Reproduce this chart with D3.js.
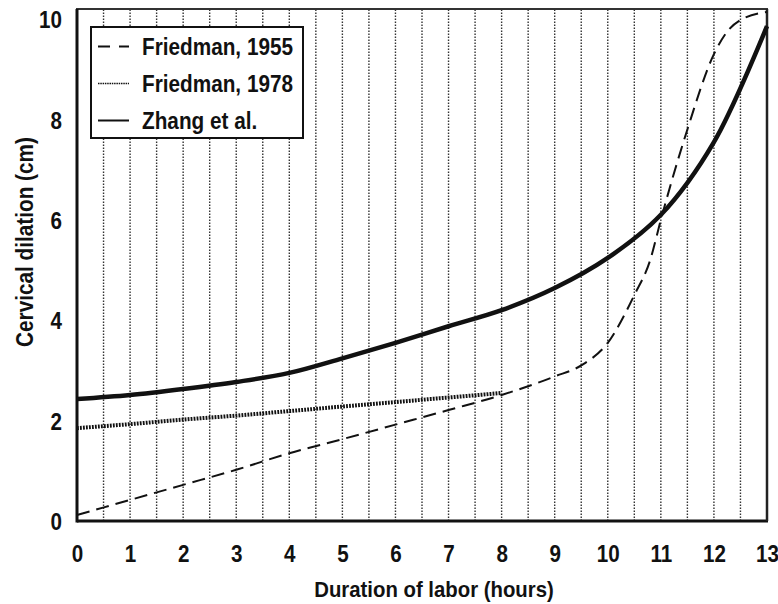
<!DOCTYPE html>
<html><head><meta charset="utf-8">
<script src="https://cdn.jsdelivr.net/npm/d3@7"></script>
<style>
body{margin:0;background:#fff;}
text{font-family:"Liberation Sans",Arial,sans-serif;font-weight:bold;fill:#111;}
</style></head>
<body>
<svg id="chart" width="778" height="604"></svg>
<script>
const xTicks = [0,1,2,3,4,5,6,7,8,9,10,11,12,13];
const yTicks = [0,2,4,6,8,10];
const gridHours = [0.5,1,1.5,2,2.5,3,3.5,4,4.5,5,5.5,6,6.5,7,7.5,8,8.5,9,9.5,10,10.5,11,11.5,12,12.5];

const friedman1955Hours  = [0,1,2,3,4,5,6,7,8,9,9.5,10,10.5,10.8,11,11.5,12,12.25,12.5,13];
const friedman1955Values = [0.12,0.42,0.72,1.02,1.35,1.63,1.92,2.21,2.51,2.88,3.1,3.55,4.5,5.2,6.0,7.8,9.3,9.75,9.98,10.14];

const friedman1978Hours  = [0,1,2,3,4,5,6,7,8];
const friedman1978Values = [1.85,1.93,2.02,2.1,2.19,2.28,2.37,2.46,2.55];

const zhangHours  = [0,1,2,3,4,5,6,7,8,9,10,11,12,13];
const zhangValues = [2.43,2.51,2.63,2.77,2.95,3.24,3.55,3.88,4.2,4.64,5.24,6.1,7.55,9.86];

const legendLabels = ["Friedman, 1955","Friedman, 1978","Zhang et al."];

const svg = d3.select("#chart");
const x = d3.scaleLinear().domain([0,13]).range([77,767]);
const y = d3.scaleLinear().domain([0,10.2]).range([521,9]);

// gridlines
svg.append("g").selectAll("line").data(gridHours).join("line")
  .attr("x1",d=>x(d)).attr("x2",d=>x(d)).attr("y1",y(0)).attr("y2",y(10.2))
  .attr("stroke","#333").attr("stroke-width",1.4).attr("stroke-dasharray","1.6,1.4");

// frame
svg.append("rect").attr("x",x(0)).attr("y",y(10.2)).attr("width",x(13)-x(0)).attr("height",y(0)-y(10.2))
  .attr("fill","none").attr("stroke","#333").attr("stroke-width",2);
svg.append("line").attr("x1",x(0)).attr("x2",x(0)).attr("y1",y(10.2)).attr("y2",y(0)+1.5).attr("stroke","#111").attr("stroke-width",3);
svg.append("line").attr("x1",x(0)).attr("x2",x(13)+1).attr("y1",y(0)).attr("y2",y(0)).attr("stroke","#111").attr("stroke-width",3);
svg.append("line").attr("x1",x(13)).attr("x2",x(13)).attr("y1",y(10.2)).attr("y2",y(0)).attr("stroke","#222").attr("stroke-width",2.5);

// axes labels via d3 axes
const TSX = 0.86;
const xAxis = svg.append("g").attr("transform",`translate(0,${y(0)})`)
  .call(d3.axisBottom(x).tickValues(xTicks).tickSize(0).tickPadding(0));
xAxis.select(".domain").remove();
xAxis.selectAll("text").attr("font-size",24).attr("fill","#111").attr("font-family",null)
  .attr("dy",null).attr("y",41).attr("transform",`scale(${TSX},1)`);

const yAxis = svg.append("g").attr("transform",`translate(${x(0)},0)`)
  .call(d3.axisLeft(y).tickValues(yTicks).tickSize(0).tickPadding(0));
yAxis.select(".domain").remove();
yAxis.selectAll("text").attr("font-size",24).attr("fill","#111").attr("font-family",null)
  .attr("x",-15/TSX).attr("dy","0.36em").attr("transform",`scale(${TSX},1)`);

// titles
const TTSX = 0.885;
svg.append("text").attr("transform",`translate(434,597) scale(${TTSX},1)`).attr("text-anchor","middle").attr("font-size",23)
  .text("Duration of labor (hours)");
svg.append("text").attr("transform",`translate(33,242) rotate(-90) scale(${TTSX*1.02},1)`).attr("text-anchor","middle").attr("font-size",23)
  .text("Cervical dilation (cm)");

// lines
const mk = (hs,vs)=>hs.map((h,i)=>[h,vs[i]]);
const line = d3.line().x(d=>x(d[0])).y(d=>y(d[1])).curve(d3.curveMonotoneX);

svg.append("path").datum(mk(friedman1955Hours,friedman1955Values)).attr("d",line)
  .attr("fill","none").attr("stroke","#111").attr("stroke-width",2).attr("stroke-dasharray","13,7");
svg.append("path").datum(mk(friedman1978Hours,friedman1978Values)).attr("d",line)
  .attr("fill","none").attr("stroke","#111").attr("stroke-width",4).attr("stroke-dasharray","1.8,1.2");
svg.append("path").datum(mk(zhangHours,zhangValues)).attr("d",line.curve(d3.curveCatmullRom))
  .attr("fill","none").attr("stroke","#111").attr("stroke-width",4.5);

// legend
const LSX = 0.865;
const lg = svg.append("g");
lg.append("rect").attr("x",91).attr("y",27).attr("width",212).attr("height",111)
  .attr("fill","#fff").attr("stroke","#111").attr("stroke-width",2);
const styles = [{w:2,da:"12,9"},{w:1.5,da:"1.5,0.8"},{w:2,da:null}];
legendLabels.forEach((lab,i)=>{
  const cy = 46.5 + i*37;
  const l = lg.append("line").attr("x1",98).attr("x2",129).attr("y1",cy).attr("y2",cy)
    .attr("stroke","#111").attr("stroke-width",styles[i].w);
  if(styles[i].da) l.attr("stroke-dasharray",styles[i].da);
  lg.append("text").attr("transform",`translate(142,${cy+8.5}) scale(${LSX},1)`).attr("font-size",24).text(lab);
});
</script>
</body></html>
